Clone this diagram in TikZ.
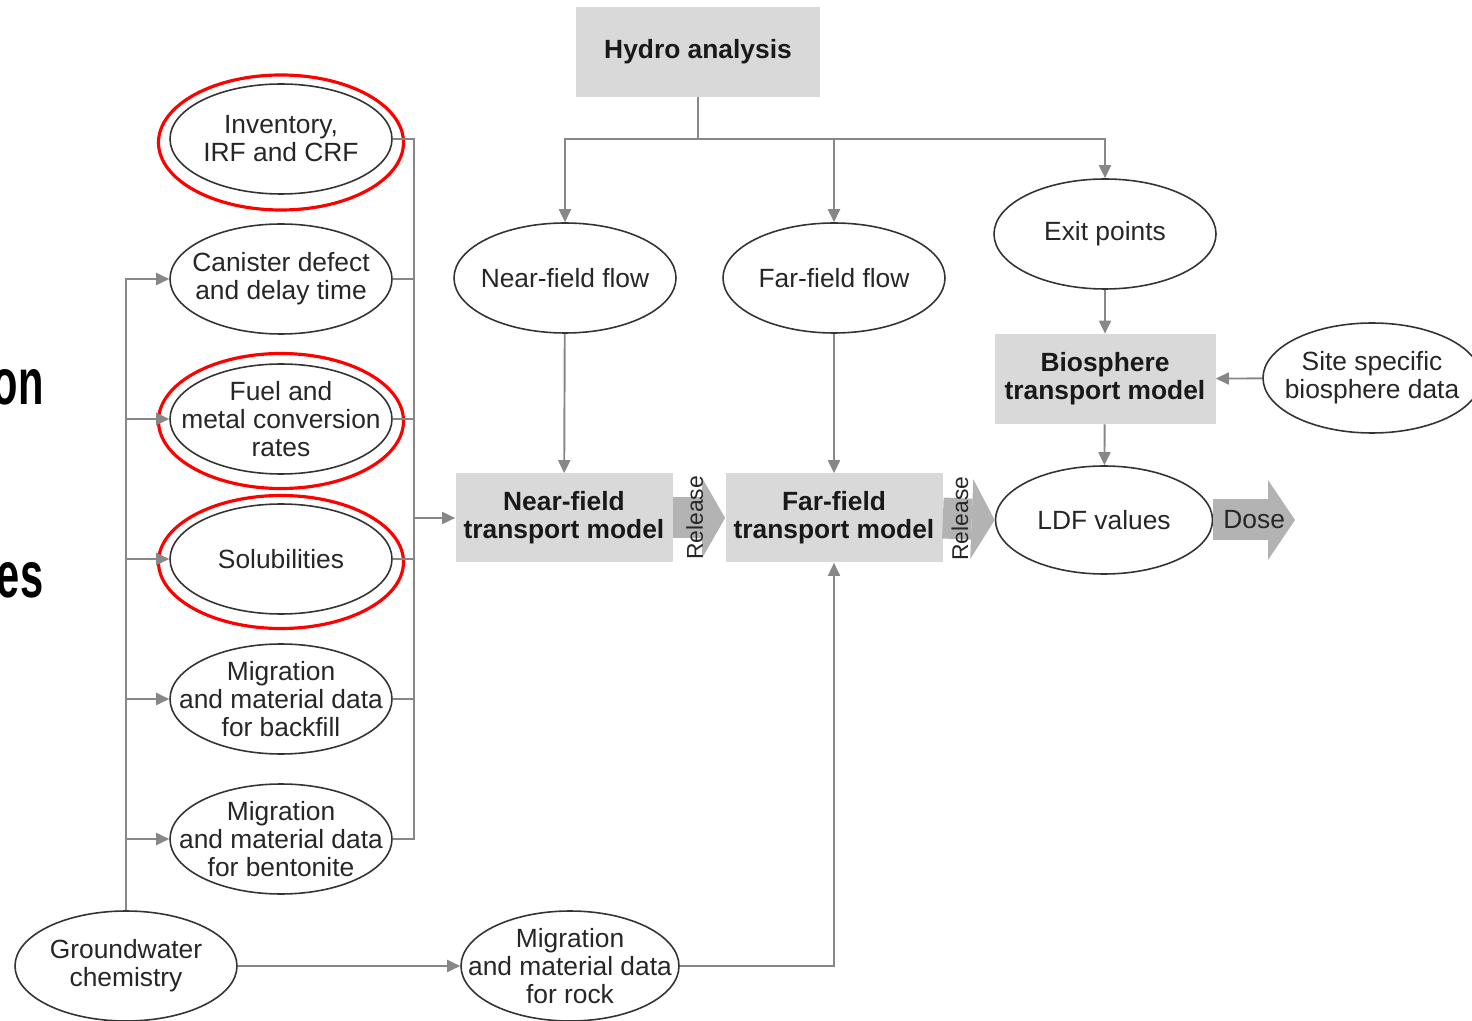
\documentclass[tikz,border=0pt]{standalone}
\usepackage{fontspec}
\setmainfont{Liberation Sans}
\usetikzlibrary{shapes.geometric, arrows.meta, positioning}
\definecolor{boxgray}{HTML}{D9D9D9}
\definecolor{linegray}{HTML}{878787}
\definecolor{relgray}{HTML}{B3B3B3}

\begin{document}
\begin{tikzpicture}[
    % Define oval style
    oval/.style={ellipse, draw=black!80, line width=0.9pt, minimum width=4.44cm, minimum height=2.2cm, inner xsep=-1cm, inner ysep=-0.6cm, align=center, text=black!85, font=\fontsize{15}{16}\selectfont},
    % Define block style
    block/.style={rectangle, fill=boxgray, minimum width=4.34cm, minimum height=1.78cm, inner sep=2pt, align=center, text=black!90, font=\fontsize{15}{16}\selectfont\bfseries},
    % Define slide word style
    word/.style={anchor=base east, inner sep=0pt, xscale=0.64, transform shape, font=\fontsize{37}{37}\selectfont\bfseries},
    % Define connector styles
    wire/.style={draw=linegray, line width=1.1pt},
    arrow/.style={wire, -{Triangle[length=2.6mm, width=2.4mm]}},
    release/.style={draw=relgray, line width=0.82cm, -{Triangle[length=4.6mm, width=16mm, line width=0pt]}},
    ring/.style={draw=red, line width=1.8pt},
    % Spacing
    node distance=2.8cm
]
    \useasboundingbox (0,0) rectangle (29.44,-20.42);

    % Cut-off slide words
    \node[word] (wordon) at (0.88,-8.1) {on};
    \node[word] (wordes) at (0.87,-11.94) {es};

    % Nodes (boxes)
    \node[block, minimum width=4.88cm, minimum height=1.8cm] (hydro) at (13.96,-1.04) {Hydro analysis};
    \node[block] (nbox) at (11.28,-10.36) {Near-field\\transport model};
    \node[block] (fbox) at (16.68,-10.36) {Far-field\\transport model};
    \node[block, minimum width=4.42cm, minimum height=1.8cm] (bio) at (22.1,-7.58) {Biosphere\\transport model};

    % Nodes (input data)
    \node[oval] (inv) at (5.62,-2.78) {Inventory,\\IRF and CRF};
    \node[oval, below of=inv] (can) {Canister defect\\and delay time};
    \node[oval, below of=can] (fuel) {Fuel and\\metal conversion\\rates};
    \node[oval, below of=fuel] (sol) {Solubilities};
    \node[oval, below of=sol] (back) {Migration\\and material data\\for backfill};
    \node[oval, below of=back] (bent) {Migration\\and material data\\for bentonite};
    \node[oval] (gw) at (2.52,-19.32) {Groundwater\\chemistry};
    \node[oval, minimum width=4.36cm] (rock) at (11.4,-19.32) {Migration\\and material data\\for rock};

    % Nodes (flow and dose)
    \node[oval] (nflow) at (11.3,-5.56) {Near-field flow};
    \node[oval] (fflow) at (16.68,-5.56) {Far-field flow};
    \node[oval] (exit) at (22.1,-4.68) {Exit points};
    \node[oval, minimum width=4.34cm, minimum height=2.16cm] (ldf) at (22.08,-10.4) {LDF values};
    \node[oval, minimum width=4.36cm] (site) at (27.44,-7.56) {Site specific\\biosphere data};

    % Highlight rings
    \draw[ring] ([yshift=-0.07cm]inv.center) ellipse [x radius=2.45cm, y radius=1.35cm];
    \draw[ring] ([yshift=-0.04cm]fuel.center) ellipse [x radius=2.45cm, y radius=1.35cm];
    \draw[ring] ([yshift=-0.06cm]sol.center) ellipse [x radius=2.45cm, y radius=1.33cm];

    % Hydro connectors
    \draw[wire] (hydro.south) -- ++(0,-0.84) coordinate (hub);
    \draw[arrow] (hub) -| (nflow.north);
    \draw[arrow] (hub) -| (fflow.north);
    \draw[arrow] (hub) -| (exit.north);
    \draw[arrow] (nflow) -- (nbox);
    \draw[arrow] (fflow) -- (fbox);
    \draw[arrow] (exit) -- (bio);
    \draw[arrow] (bio) -- (ldf);
    \draw[arrow] (site) -- (bio);

    % Data bus to near-field model
    \coordinate (rbus) at ([xshift=-0.82cm]nbox.west);
    \foreach \src in {inv, can, fuel, sol, back, bent}
        \draw[wire] (\src.east) -| (rbus);
    \draw[arrow] (rbus) -- (nbox.west);

    % Groundwater chemistry feeds
    \foreach \dst in {can, fuel, sol, back, bent}
        \draw[arrow] (gw.north) |- (\dst.west);
    \draw[arrow] (gw) -- (rock);
    \draw[arrow] (rock.east) -| (fbox.south);

    % Release and dose arrows
    \coordinate (dosetip) at (25.9,-10.4);
    \draw[release] (nbox.east) -- node[pos=0.42, rotate=90, text=black!85, font=\fontsize{13}{13}\selectfont] {Release} (fbox.west);
    \draw[release] (fbox.east) -- node[pos=0.33, rotate=90, text=black!85, font=\fontsize{13}{13}\selectfont] {Release} (ldf.west);
    \draw[release, -{Triangle[length=5.4mm, width=16mm, line width=0pt]}] (ldf.east) -- node[text=black!85, font=\fontsize{15}{16}\selectfont] {Dose} (dosetip);

\end{tikzpicture}
\end{document}
